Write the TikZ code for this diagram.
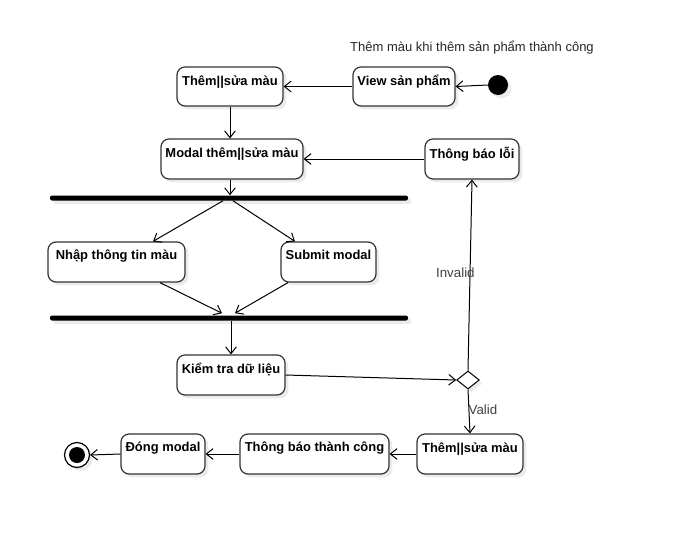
\documentclass[tikz,border=0pt]{standalone}
\usepackage{fontspec}
\setmainfont{Liberation Sans}
\usepackage{tikz}
\usetikzlibrary{arrows.meta,shapes.geometric,shadows,calc}
\tikzstyle{hoatdong} = [rectangle, rounded corners=6pt, draw=black!80, line width=0.9pt, fill=white, minimum height=30pt, drop shadow={shadow xshift=2.5pt, shadow yshift=-2.5pt, fill=black, opacity=0.08}]
\tikzstyle{chu} = [anchor=north, inner sep=0pt, yshift=-6.5pt, font=\fontsize{9.7}{11}\selectfont\bfseries]
\tikzstyle{thanh} = [rectangle, rounded corners=1.5pt, fill=black, minimum width=268.5pt, minimum height=3.75pt, inner sep=0pt, drop shadow={shadow xshift=2.5pt, shadow yshift=-2.5pt, fill=black, opacity=0.08}]
\tikzstyle{quyetdinh} = [diamond, draw=black, line width=0.75pt, fill=white, minimum width=17pt, minimum height=13.5pt, inner sep=0pt, drop shadow={shadow xshift=2.5pt, shadow yshift=-2.5pt, fill=black, opacity=0.08}]
\tikzstyle{nhan} = [font=\fontsize{10}{12}\selectfont, text=black!75, inner sep=0pt]
\tikzstyle{muiten} = [line width=0.75pt, ->, >={Straight Barb[length=5pt,width=8pt]}]

\begin{document}
\begin{tikzpicture}[x=0.75pt, y=-0.75pt]
        \useasboundingbox (0,0) rectangle (682,536);
        % Tiêu đề
        \node (tieude) [font=\fontsize{9.75}{11}\selectfont, text=black!85] at (472,48) {Thêm màu khi thêm sản phẩm thành công};
        % Bắt đầu
        \node (batdau) [circle, fill=black, minimum size=15pt, inner sep=0pt, drop shadow={shadow xshift=2.5pt, shadow yshift=-2.5pt, fill=black, opacity=0.08}] at (498,85) {};
        % Hàng trên
        \node (view) [hoatdong, minimum width=76.5pt, minimum height=29.25pt, label={[chu]north:View sản phẩm}] at (404,86.5) {};
        \node (them1) [hoatdong, minimum width=79.5pt, minimum height=29.25pt, label={[chu]north:Thêm||sửa màu}] at (230,86.5) {};
        \node (modal) [hoatdong, minimum width=106.5pt, label={[chu]north:Modal thêm||sửa màu}] at (232,159) {};
        \node (loi) [hoatdong, minimum width=70.5pt, label={[chu]north:Thông báo lỗi}] at (472,159) {};
        % Thanh chia và thanh gộp
        \node (chia) [thanh] at (229,198) {};
        \node (nhap) [hoatdong, minimum width=102.75pt, label={[chu]north:Nhập thông tin màu}] at (116.5,262) {};
        \node (submit) [hoatdong, minimum width=71.25pt, label={[chu]north:Submit modal}] at (328.5,262) {};
        \node (gop) [thanh] at (229,318) {};
        % Kiểm tra
        \node (kiemtra) [hoatdong, minimum width=81pt, label={[chu]north:Kiểm tra dữ liệu}] at (231,375) {};
        \node (rere) [quyetdinh] at (468,380) {};
        % Hàng dưới
        \node (them2) [hoatdong, minimum width=79.5pt, label={[chu]north:Thêm||sửa màu}] at (470,454) {};
        \node (thanhcong) [hoatdong, minimum width=111.75pt, label={[chu]north:Thông báo thành công}] at (314.5,454) {};
        \node (dong) [hoatdong, minimum width=63pt, label={[chu]north:Đóng modal}] at (163,454) {};
        \node (ketthuc) [circle, draw=black, line width=0.9pt, minimum size=18.75pt, inner sep=0pt, fill=white, path picture={\fill[black] (path picture bounding box.center) circle (6pt);}, drop shadow={shadow xshift=2.5pt, shadow yshift=-2.5pt, fill=black, opacity=0.08}] at (77,455) {};
        % Kết nối
        \draw [muiten] (batdau.west) -- (view.east);
        \draw [muiten] (view.west) -- (them1.east);
        \draw [muiten] (them1.south) -- (them1.south |- modal.north);
        \draw [muiten] (modal.south -| them1.south) -- (chia.north -| them1.south);
        \draw [muiten] (loi.west) -- (modal.east);
        \draw [muiten] ($(chia.south)+(-6,0)$) -- ($(nhap.north)+(36.5,0)$);
        \draw [muiten] ($(chia.south)+(4,0)$) -- ($(submit.north)+(-33.5,0)$);
        \draw [muiten] ($(nhap.south)+(43.5,0)$) -- ($(gop.north)+(-7,-2)$);
        \draw [muiten] ($(submit.south)+(-40.5,0)$) -- ($(gop.north)+(6,-2)$);
        \draw [muiten] (gop.south -| kiemtra.north) -- (kiemtra.north);
        \draw [muiten] (kiemtra.east) -- (rere.west);
        \draw [muiten] (rere.north) -- node[nhan, pos=0.51, xshift=-11pt] {Invalid} (loi.south);
        \draw [muiten] (rere.south) -- node[nhan, pos=0.47, xshift=10.5pt] {Valid} (them2.north);
        \draw [muiten] (them2.west) -- (thanhcong.east);
        \draw [muiten] (thanhcong.west) -- (dong.east);
        \draw [muiten] (dong.west) -- (ketthuc.east);
    \end{tikzpicture}
\end{document}
